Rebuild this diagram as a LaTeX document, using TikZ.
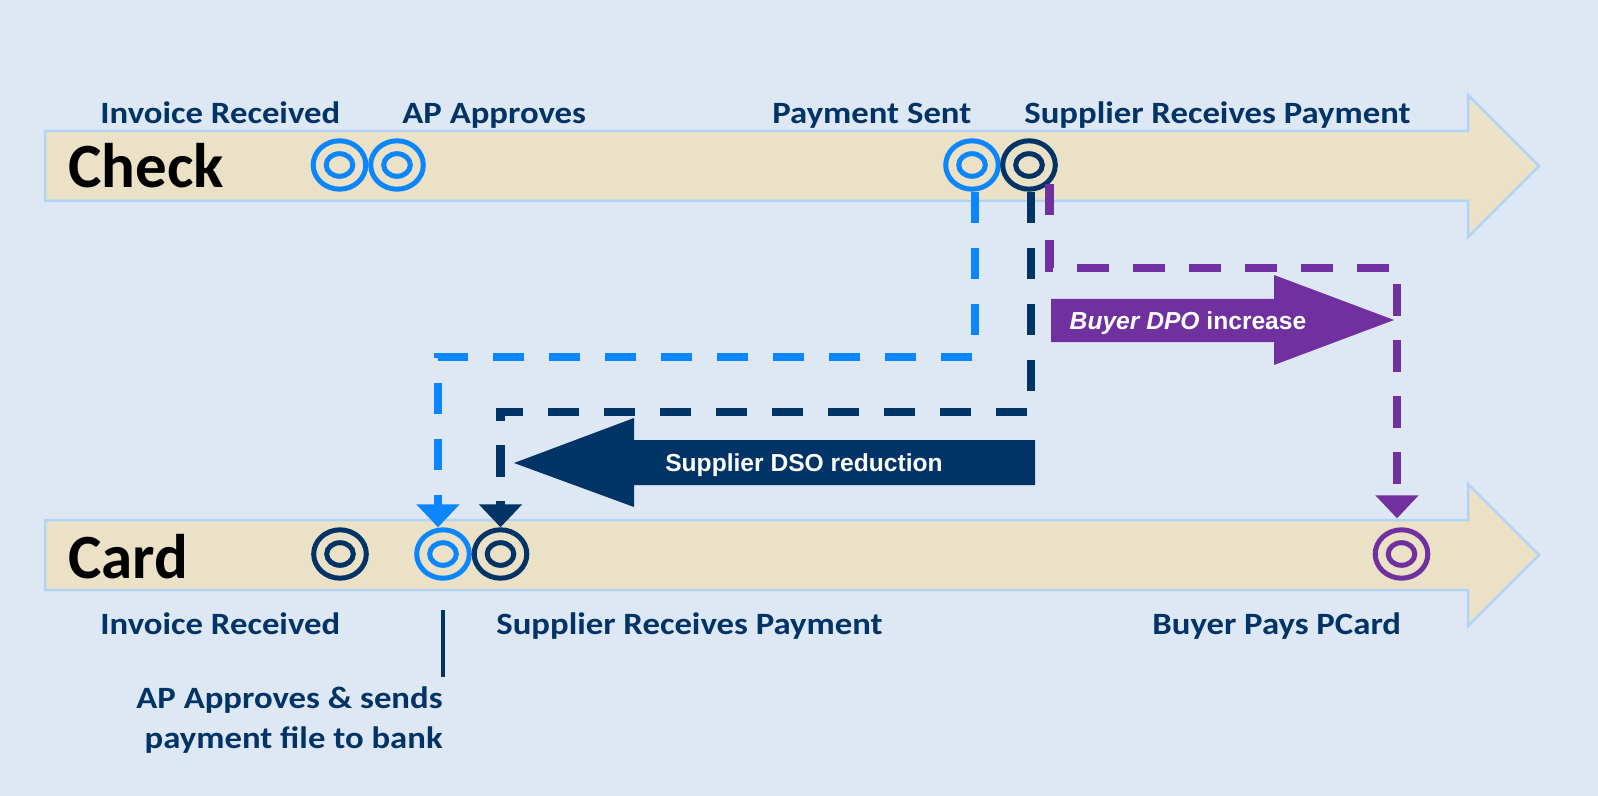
\documentclass[tikz,border=0pt]{standalone}
\usepackage{fontspec}
\usepackage{tikz}
\usetikzlibrary{shapes.geometric,arrows.meta}

\setmainfont{Carlito}
\newfontfamily\tagfont[FakeStretch=1.12]{Carlito}
\newfontfamily\boxfont{Liberation Sans}

\definecolor{paper}{RGB}{222,232,244}
\definecolor{sand}{RGB}{234,225,199}
\definecolor{rim}{RGB}{176,212,248}
\definecolor{navy}{RGB}{0,51,102}
\definecolor{sky}{RGB}{12,134,255}
\definecolor{plum}{RGB}{112,48,160}

\tikzset{
  ring/.style={ellipse, draw=#1, line width=2.5pt, minimum width=26.3pt, minimum height=24.2pt, inner sep=0pt,
    path picture={\draw[#1, line width=2.5pt] (path picture bounding box.center) ellipse [x radius=6.65pt, y radius=5.65pt];}},
  band/.style={fill=sand, draw=rim, line width=1.25pt},
  lane/.style={text=black, font=\bfseries\fontsize{31.5}{36}\selectfont, inner sep=0pt},
  tag/.style={text=navy, font=\tagfont\bfseries\fontsize{15.5}{20}\selectfont, inner sep=0pt},
  boxtext/.style={text=white, font=\boxfont\bfseries\fontsize{12.3}{14}\selectfont, inner sep=0pt},
  lag/.style={line width=4.25pt, dash pattern=on 15.75pt off 12.25pt, -{Triangle[width=21pt, length=11.5pt]}}
}

\begin{document}
\begin{tikzpicture}[x=0.5pt, y=-0.5pt]
        \fill[paper] (0,0) rectangle (1598,796);
        \useasboundingbox (0,0) rectangle (1598,796);

        % Draw timelines
        \draw[band] (45,131) -- (1468,131) -- (1468,95) -- (1539,166) -- (1468,237) -- (1468,201) -- (45,201) -- cycle;
        \draw[band] (45,520) -- (1468,520) -- (1468,484) -- (1539,555) -- (1468,626) -- (1468,590) -- (45,590) -- cycle;
        \node[lane, anchor=base west] (check) at (68,188) {Check};
        \node[lane, anchor=base west] (card) at (68,578) {Card};

        % Draw events
        \node[ring=sky] (chkInv) at (339.5,165) {};
        \node[ring=sky] (chkAP) at (397,165) {};
        \node[ring=sky] (chkPay) at (972,165) {};
        \node[ring=navy] (chkSup) at (1029,165) {};
        \node[ring=navy] (crdInv) at (340,554) {};
        \node[ring=sky] (crdAP) at (443,554) {};
        \node[ring=navy] (crdSup) at (500.5,554) {};
        \node[ring=plum] (crdPay) at (1401.5,554) {};

        % Draw labels
        \node[tag, anchor=base west] (tInvA) at (100,124) {Invoice Received};
        \node[tag, anchor=base west] (tAPA) at (402,124) {AP Approves};
        \node[tag, anchor=base west] (tPayA) at (772,124) {Payment Sent};
        \node[tag, anchor=base west] (tSupA) at (1024,124) {Supplier Receives Payment};
        \node[tag, anchor=base west] (tInvB) at (100,634) {Invoice Received};
        \node[tag, anchor=base west] (tSupB) at (496,634) {Supplier Receives Payment};
        \node[tag, anchor=base west] (tPayB) at (1152,634) {Buyer Pays PCard};
        \node[tag, align=right, anchor=north east] (apNote) at (443,686) {AP Approves \& sends\\payment file to bank};
        \coordinate (apTick) at (443,610);
        \draw[navy, line width=2.2pt] (apTick) -- ++(0,67);

        % Draw shifts
        \coordinate (plumBend) at (0,268);
        \coordinate (skyBend) at (0,357);
        \coordinate (navyBend) at (0,412);
        \draw[lag, sky] ([xshift=1.5pt]chkPay.south) -- ([xshift=1.5pt]chkPay.south |- skyBend) -| ([xshift=-2.5pt]crdAP.north);
        \draw[lag, navy] ([xshift=1pt]chkSup.south) -- ([xshift=1pt]chkSup.south |- navyBend) -| (crdSup.north);
        \draw[lag, plum, shorten >=4.5pt] (chkSup.south east) -- (chkSup.south east |- plumBend) -| ([xshift=-2.25pt]crdPay.north);

        \fill[plum] (1051,299) -- (1274,299) -- (1274,275) -- (1394,320) -- (1274,365) -- (1274,342) -- (1051,342) -- cycle;
        \node[boxtext, anchor=base] (dpo) at (1188,329) {\textit{Buyer DPO} increase};
        \fill[navy] (1035,440) -- (634,440) -- (634,418) -- (514,463) -- (634,507) -- (634,485) -- (1035,485) -- cycle;
        \node[boxtext, anchor=base] (dso) at (804,471) {Supplier DSO reduction};
      \end{tikzpicture}
\end{document}
